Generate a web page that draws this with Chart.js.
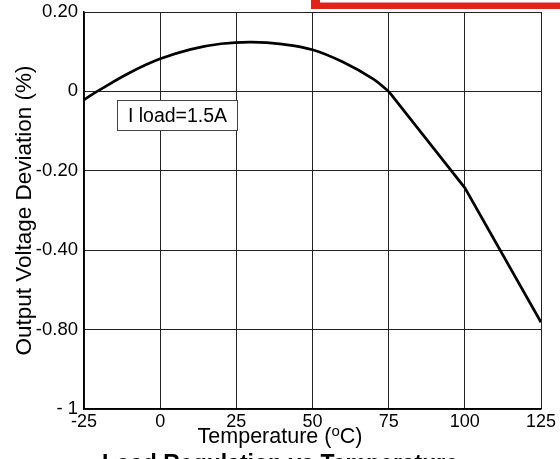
<!DOCTYPE html>
<html>
<head>
<meta charset="utf-8">
<script src="https://cdn.jsdelivr.net/npm/chart.js@4.4.1/dist/chart.umd.min.js"></script>
<style>
html,body{margin:0;padding:0;background:#fff;}
#wrap{width:560px;height:459px;position:relative;}
</style>
</head>
<body>
<div id="wrap"><canvas id="c" width="560" height="459"></canvas></div>
<script>
// ---- data ----
// smooth part of the curve
const tempsCurve = [-25, -20, -10, 0, 10, 20, 30, 40, 50, 60, 70, 75];
const devCurve   = [-0.021, 0.003, 0.047, 0.082, 0.106, 0.120, 0.124, 0.119, 0.105, 0.074, 0.031, 0];
// straight segments above 75 °C
const tempsLine  = [75, 100, 125];
const devLine    = [0, -0.243, -0.763];
const xTicks       = [-25, 0, 25, 50, 75, 100, 125];
const yTickValues  = [-1, -0.8, -0.4, -0.2, 0, 0.2];
const yTickLabels  = ['- 1', '-0.80', '-0.40', '-0.20', '0', '0.20'];
const seriesLabel  = 'I load=1.5A';
const xTitle       = 'Temperature (';
const yTitle       = 'Output Voltage Deviation (%)';
const chartTitle   = 'Load Regulation vs Temperature';

// The reference's y gridlines are evenly spaced but their labels are not,
// so the axis position is interpolated between labelled gridlines.
function toAxis(v) {
  for (let i = 0; i < yTickValues.length - 1; i++) {
    const a = yTickValues[i], b = yTickValues[i + 1];
    if (v >= a && v <= b) return i + (v - a) / (b - a);
  }
  return v < yTickValues[0] ? 0 : yTickValues.length - 1;
}

const curvePts = tempsCurve.map((t, i) => ({ x: t, y: toAxis(devCurve[i]) }));
const linePts  = tempsLine.map((t, i) => ({ x: t, y: toAxis(devLine[i]) }));
const FONT = "'Liberation Sans', Arial, sans-serif";

const deco = {
  id: 'deco',
  afterDraw(chart) {
    const ctx = chart.ctx;
    const ca = chart.chartArea;
    ctx.save();
    // red frame remnant at the top
    ctx.fillStyle = '#e0231b';
    ctx.fillRect(311, 0, 249, 9);
    ctx.fillStyle = '#ffffff';
    ctx.fillRect(320, 0, 240, 2.5);

    // legend box
    ctx.fillStyle = '#ffffff';
    ctx.fillRect(117, 100, 121, 31);
    ctx.strokeStyle = '#444';
    ctx.lineWidth = 1;
    ctx.strokeRect(117.5, 100.5, 120, 30);
    ctx.fillStyle = '#000';
    ctx.font = '19.5px ' + FONT;
    ctx.textAlign = 'center';
    ctx.textBaseline = 'middle';
    ctx.fillText(seriesLabel, 177.5, 116.5);

    // y title
    ctx.save();
    ctx.translate(31, (ca.top + ca.bottom) / 2);
    ctx.rotate(-Math.PI / 2);
    ctx.font = '22.5px ' + FONT;
    ctx.textAlign = 'center';
    ctx.textBaseline = 'alphabetic';
    ctx.fillText(yTitle, 0, 0);
    ctx.restore();

    // x title with superscript o
    const fs = 21.5;
    ctx.font = fs + 'px ' + FONT;
    ctx.textBaseline = 'alphabetic';
    ctx.textAlign = 'left';
    const w1 = ctx.measureText(xTitle).width;
    ctx.font = '15px ' + FONT;
    const w2 = ctx.measureText('o').width;
    ctx.font = fs + 'px ' + FONT;
    const w3 = ctx.measureText('C)').width;
    let x0 = 280 - (w1 + w2 + w3) / 2;
    const base = 443;
    ctx.fillText(xTitle, x0, base);
    ctx.font = '15px ' + FONT;
    ctx.fillText('o', x0 + w1, base - 7);
    ctx.font = fs + 'px ' + FONT;
    ctx.fillText('C)', x0 + w1 + w2, base);

    // chart title (cut by the bottom edge)
    ctx.font = 'bold 23px ' + FONT;
    ctx.textAlign = 'center';
    ctx.fillText(chartTitle, 280, 471);
    ctx.restore();
  }
};

new Chart(document.getElementById('c'), {
  type: 'line',
  data: {
    datasets: [{
      label: seriesLabel,
      data: curvePts,
      borderColor: '#000',
      borderWidth: 2.7,
      pointRadius: 0,
      fill: false,
      tension: 0.4
    }, {
      label: seriesLabel,
      data: linePts,
      borderColor: '#000',
      borderWidth: 2.7,
      pointRadius: 0,
      fill: false,
      tension: 0
    }]
  },
  options: {
    responsive: false,
    animation: false,
    events: [],
    layout: { padding: { left: 0, right: 19, top: 12, bottom: 0 } },
    plugins: { legend: { display: false }, tooltip: { enabled: false }, title: { display: false } },
    scales: {
      x: {
        type: 'linear',
        min: -25, max: 125,
        afterBuildTicks: s => { s.ticks = xTicks.map(v => ({ value: v })); },
        afterFit: s => { s.height = 50; s.paddingLeft = 0; s.paddingRight = 0; },
        grid: { color: '#222', lineWidth: 1, drawTicks: false },
        border: { color: '#000', width: 1.5 },
        ticks: { color: '#000', font: { family: FONT, size: 18 }, padding: 2, maxRotation: 0, autoSkip: false }
      },
      y: {
        type: 'linear',
        min: 0, max: yTickValues.length - 1,
        afterBuildTicks: s => { s.ticks = yTickValues.map((v, i) => ({ value: i })); },
        afterFit: s => { s.width = 84; s.paddingTop = 0; s.paddingBottom = 0; },
        grid: { color: '#222', lineWidth: 1, drawTicks: false },
        border: { color: '#000', width: 1.5 },
        ticks: {
          color: '#000', font: { family: FONT, size: 18.5 }, padding: 6, autoSkip: false,
          callback: (v) => yTickLabels[Math.round(v)]
        }
      }
    }
  },
  plugins: [deco]
});
</script>
</body>
</html>
